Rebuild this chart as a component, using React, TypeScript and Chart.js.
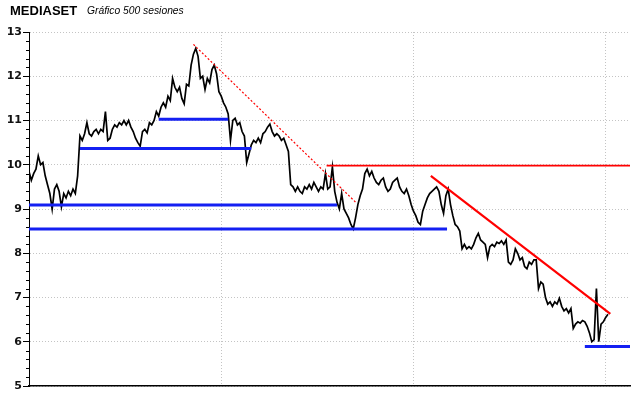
import React, { useEffect, useRef } from "react";
import { Chart, registerables } from "chart.js";

Chart.register(...registerables);

// Closing prices, one value every 2 sessions (500 sessions)
const SESSION_STEP = 2;
const closes: number[] = [
  9.85, 9.65, 9.8, 9.9, 10.2, 10.0, 10.05, 9.75, 9.55, 9.35,
  9.0, 9.45, 9.55, 9.4, 9.05, 9.35, 9.25, 9.4, 9.3, 9.45,
  9.35, 9.75, 10.65, 10.55, 10.7, 10.95, 10.7, 10.65, 10.75, 10.8,
  10.7, 10.8, 10.75, 11.2, 10.55, 10.6, 10.8, 10.9, 10.85, 10.95,
  10.9, 11.0, 10.9, 11.0, 10.85, 10.75, 10.6, 10.5, 10.42, 10.75,
  10.8, 10.72, 10.95, 10.9, 11.0, 11.2, 11.1, 11.3, 11.4, 11.3,
  11.55, 11.45, 11.95, 11.75, 11.65, 11.75, 11.5, 11.38, 11.82, 11.78,
  12.25, 12.5, 12.63, 12.45, 11.95, 12.0, 11.7, 11.95, 11.85, 12.15,
  12.25, 12.05, 11.65, 11.55, 11.4, 11.3, 11.15, 10.55, 11.0, 11.05,
  10.9, 10.95, 10.75, 10.65, 10.05, 10.25, 10.45, 10.55, 10.5, 10.6,
  10.5, 10.7, 10.75, 10.85, 10.92, 10.75, 10.65, 10.7, 10.65, 10.55,
  10.6, 10.45, 10.3, 9.55, 9.5, 9.4, 9.5, 9.4, 9.35, 9.5,
  9.45, 9.55, 9.45, 9.6, 9.5, 9.4, 9.5, 9.45, 9.8, 9.45,
  9.5, 9.95, 9.4, 9.15, 9.0, 9.35, 9.0, 8.9, 8.8, 8.65,
  8.55, 8.8, 9.1, 9.3, 9.45, 9.8, 9.9, 9.75, 9.85, 9.7,
  9.6, 9.55, 9.65, 9.7, 9.5, 9.4, 9.45, 9.6, 9.65, 9.7,
  9.5, 9.4, 9.35, 9.45, 9.3, 9.1, 8.95, 8.85, 8.7, 8.65,
  8.95, 9.1, 9.25, 9.35, 9.4, 9.45, 9.5, 9.4, 9.1, 8.9,
  9.3, 9.45, 9.1, 8.85, 8.65, 8.6, 8.5, 8.1, 8.2, 8.1,
  8.15, 8.1, 8.2, 8.35, 8.45, 8.3, 8.25, 8.2, 7.9, 8.15,
  8.2, 8.15, 8.25, 8.22, 8.28, 8.2, 8.3, 7.8, 7.75, 7.85,
  8.1, 8.0, 7.85, 7.9, 7.7, 7.65, 7.8, 7.75, 7.85, 7.85,
  7.2, 7.35, 7.3, 7.0, 6.85, 6.9, 6.8, 6.9, 6.85, 6.98,
  6.8, 6.7, 6.75, 6.65, 6.75, 6.3, 6.4, 6.45, 6.42, 6.48,
  6.45, 6.35, 6.2, 6.0, 6.05, 7.2, 6.0, 6.4, 6.45, 6.55,
  6.62,
];

// Horizontal support lines (blue)
const supportLevels = [9.09, 8.55, 10.37, 11.03, 5.89];
const supportStarts = [0, 0, 44, 112, 480];
const supportEnds = [266, 361, 192, 172, 519];

// Horizontal resistance (red)
const resistanceLevel = 9.98;
const resistanceStart = 257;
const resistanceEnd = 519;

// Trend lines (red)
const dashedTrendX = [142, 283];
const dashedTrendY = [12.72, 9.13];
const solidTrendX = [347, 502];
const solidTrendY = [9.75, 6.63];

// Axis
const xMax = 519;
const verticalGridSessions = [166, 332, 498];
const yMin = 5;
const yMax = 13;

const minorTicksPlugin = {
  id: "minorTicks",
  afterDraw(chart: any) {
    const y = chart.scales.y;
    const ctx = chart.ctx;
    const left = chart.chartArea.left;
    ctx.save();
    ctx.strokeStyle = "#000";
    ctx.lineWidth = 1;
    for (let k = yMin * 5; k <= yMax * 5; k++) {
      if (k % 5 === 0) continue;
      const py = Math.round(y.getPixelForValue(k / 5)) + 0.5;
      ctx.beginPath();
      ctx.moveTo(left - 3, py);
      ctx.lineTo(left, py);
      ctx.stroke();
    }
    ctx.restore();
  },
};

export default function App() {
  const ref = useRef<HTMLCanvasElement | null>(null);

  useEffect(() => {
    if (!ref.current) return;
    const priceData = closes.map((v, i) => ({ x: i * SESSION_STEP, y: v }));
    const datasets: any[] = [];
    supportLevels.forEach((lvl, i) => {
      datasets.push({
        data: [
          { x: supportStarts[i], y: lvl },
          { x: supportEnds[i], y: lvl },
        ],
        borderColor: "#1420f2",
        borderWidth: 3,
        pointRadius: 0,
      });
    });
    datasets.push({
      data: [
        { x: resistanceStart, y: resistanceLevel },
        { x: resistanceEnd, y: resistanceLevel },
      ],
      borderColor: "#ff0000",
      borderWidth: 1.6,
      pointRadius: 0,
    });
    datasets.push({
      data: dashedTrendX.map((x, i) => ({ x, y: dashedTrendY[i] })),
      borderColor: "#ff0000",
      borderWidth: 1.2,
      borderDash: [2, 2],
      pointRadius: 0,
    });
    datasets.push({
      data: solidTrendX.map((x, i) => ({ x, y: solidTrendY[i] })),
      borderColor: "#ff0000",
      borderWidth: 2.2,
      pointRadius: 0,
    });
    datasets.push({
      data: priceData,
      borderColor: "#000",
      borderWidth: 1.7,
      pointRadius: 0,
      tension: 0,
    });

    const chart = new Chart(ref.current, {
      type: "line",
      data: { datasets },
      options: {
        animation: false,
        responsive: false,
        devicePixelRatio: 1,
        layout: { padding: { top: 32, right: 10, left: 0, bottom: 0 } },
        plugins: { legend: { display: false }, tooltip: { enabled: false } },
        scales: {
          x: {
            type: "linear",
            min: 0,
            max: xMax,
            afterBuildTicks: (s: any) => {
              s.ticks = verticalGridSessions.map((v) => ({ value: v }));
            },
            afterFit: (s: any) => {
              s.height = 12;
            },
            ticks: { display: false },
            grid: { color: "#c4c4c4", drawTicks: false, lineWidth: 1 },
            border: { display: true, color: "#000", width: 1.5, dash: [1, 2] },
          },
          y: {
            type: "linear",
            min: yMin,
            max: yMax,
            afterFit: (s: any) => {
              s.width = 29;
            },
            ticks: {
              stepSize: 1,
              padding: 1,
              color: "#111",
              font: { family: "'DejaVu Sans', sans-serif", size: 11, weight: "bold" },
            },
            grid: {
              color: "#c4c4c4",
              tickColor: "#000",
              tickLength: 6,
              lineWidth: 1,
            },
            border: { display: true, color: "#000", width: 1, dash: [1, 2] },
          },
        },
      } as any,
      plugins: [minorTicksPlugin],
    });
    return () => chart.destroy();
  }, []);

  return (
    <div style={{ position: "fixed", left: 0, top: 0, width: 640, height: 398, background: "#fff" }}>
      <canvas ref={ref} width={640} height={398} style={{ position: "absolute", left: 0, top: 0 }} />
      <span
        style={{
          position: "absolute",
          left: 10,
          top: 4,
          fontFamily: "Arial, 'Liberation Sans', sans-serif",
          fontWeight: "bold",
          fontSize: 13,
          lineHeight: "13px",
          color: "#000",
          whiteSpace: "nowrap",
        }}
      >
        MEDIASET
      </span>
      <span
        style={{
          position: "absolute",
          left: 87,
          top: 6,
          fontFamily: "Arial, 'Liberation Sans', sans-serif",
          fontStyle: "italic",
          fontSize: 10.3,
          lineHeight: "10.3px",
          color: "#000",
          whiteSpace: "nowrap",
        }}
      >
        Gráfico 500 sesiones
      </span>
    </div>
  );
}
